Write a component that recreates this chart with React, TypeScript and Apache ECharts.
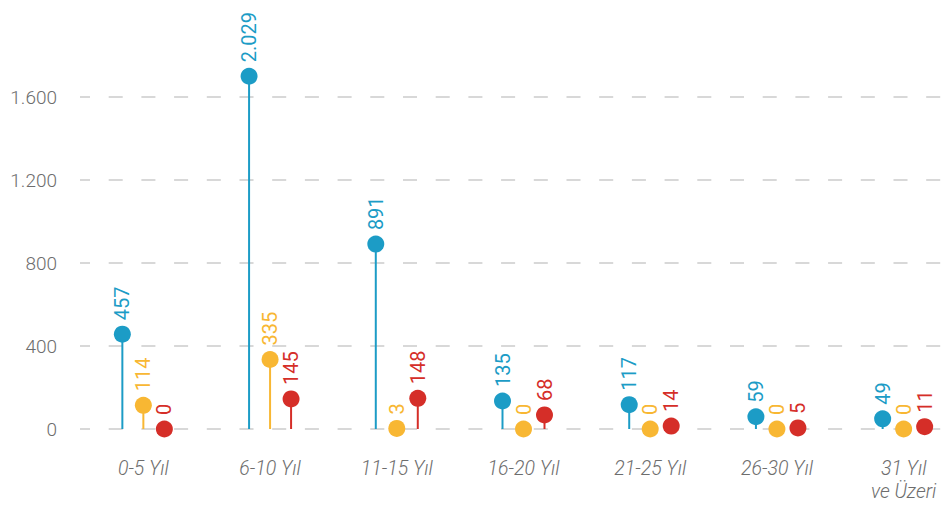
import React, { useEffect, useRef } from "react";
import * as echarts from "echarts";

const categories = ["0-5 Yıl", "6-10 Yıl", "11-15 Yıl", "16-20 Yıl", "21-25 Yıl", "26-30 Yıl", "31 Yıl\nve Üzeri"];
const blueValues = [457, 2029, 891, 135, 117, 59, 49];
const yellowValues = [114, 335, 3, 0, 0, 0, 0];
const redValues = [0, 145, 148, 68, 14, 5, 11];
const yTicks = [0, 400, 800, 1200, 1600];
const plotCap = 1700;

const COLORS = ["#1c9cc6", "#f8b733", "#d52e28"];
const FONT = "Roboto, 'Liberation Sans', Arial, sans-serif";

const fmt = (v: number) => {
  const s = String(Math.round(v));
  return s.replace(/\B(?=(\d{3})+(?!\d))/g, ".");
};

export default function App() {
  const ref = useRef<HTMLDivElement>(null);
  useEffect(() => {
    document.body.style.margin = "0";
    if (!ref.current) return;
    const chart = echarts.init(ref.current, undefined, { renderer: "svg" });
    const seriesData = [blueValues, yellowValues, redValues];
    const offsets = [-21, 0, 21];
    const bars = seriesData.map((vals, i) => ({
      type: "bar",
      name: "s" + i,
      data: vals.map((v) => Math.min(v, plotCap)),
      barWidth: 2,
      barGap: "950%",
      clip: false,
      itemStyle: { color: COLORS[i] },
      label: {
        show: true,
        position: "top",
        rotate: 90,
        align: "left",
        verticalAlign: "middle",
        distance: 14,
        color: COLORS[i],
        fontSize: 20,
        fontFamily: FONT,
        formatter: (p: any) => fmt(vals[p.dataIndex]),
      },
      silent: true,
    }));
    const dots = seriesData.map((vals, i) => ({
      type: "scatter",
      data: vals.map((v) => Math.min(v, plotCap)),
      symbol: "circle",
      symbolSize: 17,
      symbolOffset: [offsets[i], 0],
      clip: false,
      itemStyle: { color: COLORS[i], opacity: 1 },
      z: 5,
      silent: true,
    }));
    chart.setOption({
      animation: false,
      grid: { left: 80, right: 3, top: 97, bottom: 78, containLabel: false },
      xAxis: {
        type: "category",
        data: categories,
        axisLine: { show: false },
        axisTick: { show: false },
        axisLabel: {
          margin: 28,
          color: "#6d6d6d",
          fontSize: 19.5,
          fontStyle: "italic",
          fontFamily: FONT,
          fontWeight: 300,
          lineHeight: 23,
          interval: 0,
        },
      },
      yAxis: {
        type: "value",
        min: yTicks[0],
        max: yTicks[yTicks.length - 1],
        interval: 400,
        axisLine: { show: false },
        axisTick: { show: false },
        axisLabel: {
          margin: 23,
          color: "#6d6d6d",
          fontSize: 19,
          fontFamily: FONT,
          fontWeight: 300,
          formatter: (v: number) => fmt(v),
        },
        splitLine: {
          show: true,
          lineStyle: { color: "#d8d8d8", width: 2, type: [14, 18.7], dashOffset: 4 },
        },
      },
      series: [...bars, ...dots],
    });
    return () => chart.dispose();
  }, []);
  return (
    <div style={{ width: 946, height: 507, overflow: "hidden", position: "relative" }}>
      <div ref={ref} style={{ width: 970, height: 507 }} />
    </div>
  );
}
